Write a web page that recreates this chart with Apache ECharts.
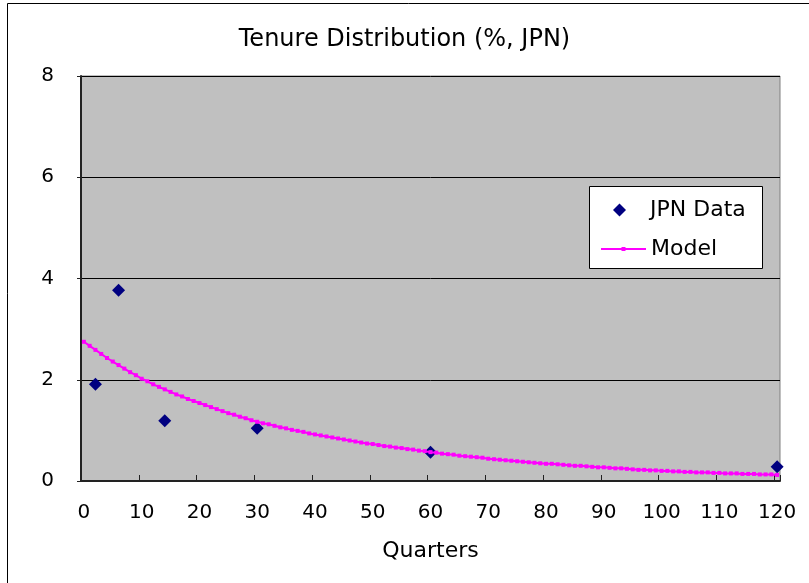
<!DOCTYPE html>
<html>
<head>
<meta charset="utf-8">
<script src="https://cdn.jsdelivr.net/npm/echarts@6/dist/echarts.min.js"></script>
<style>
html,body{margin:0;padding:0;background:#fff;}
#chart{width:809px;height:583px;}
</style>
</head>
<body>
<div id="chart"></div>
<script>
// Categories: quarters 0..120
var quarters = [];
for (var q = 0; q <= 120; q++) quarters.push(String(q));

// JPN Data points (quarter, %)
var dataQuarters = ['2', '6', '14', '30', '60', '120'];
var dataValues = [1.91, 3.77, 1.19, 1.04, 0.57, 0.28];

// Model curve, one value per quarter 0..120
var modelValues = [
  2.75,2.67,2.59,2.51,2.43,2.36,2.29,2.22,2.15,2.09,
  2.02,1.97,1.91,1.86,1.81,1.76,1.71,1.67,1.62,1.58,
  1.54,1.50,1.46,1.42,1.38,1.34,1.31,1.27,1.24,1.20,
  1.17,1.14,1.12,1.09,1.06,1.04,1.01,0.99,0.97,0.94,
  0.92,0.90,0.88,0.86,0.84,0.82,0.80,0.78,0.76,0.74,
  0.73,0.71,0.69,0.68,0.66,0.65,0.63,0.62,0.60,0.59,
  0.57,0.56,0.54,0.53,0.52,0.50,0.49,0.48,0.47,0.46,
  0.44,0.43,0.42,0.41,0.40,0.39,0.38,0.37,0.36,0.35,
  0.34,0.34,0.33,0.32,0.31,0.30,0.30,0.29,0.28,0.27,
  0.27,0.26,0.25,0.25,0.24,0.23,0.22,0.22,0.21,0.21,
  0.20,0.20,0.19,0.19,0.18,0.18,0.17,0.17,0.17,0.16,
  0.16,0.15,0.15,0.15,0.14,0.14,0.14,0.13,0.13,0.13,
  0.12
];

var yTicks = [0, 2, 4, 6, 8];

var FONT = 'DejaVu Sans';
var scatterData = dataQuarters.map(function (c, i) { return [c, dataValues[i]]; });

var chart = echarts.init(document.getElementById('chart'), null, {renderer: 'canvas'});
chart.setOption({
  animation: false,
  backgroundColor: '#ffffff',
  title: {
    text: 'Tenure Distribution (%, JPN)',
    left: 'center',
    top: 23,
    textStyle: {fontFamily: FONT, fontSize: 24, fontWeight: 'normal', color: '#000'}
  },
  graphic: [
    {type: 'rect', shape: {x: 7.5, y: 3.5, width: 900, height: 700}, style: {fill: 'none', stroke: '#000', lineWidth: 1}, silent: true, z: 0},
    {type: 'rect', shape: {x: 589.5, y: 186.5, width: 173, height: 82}, style: {fill: '#fff', stroke: '#000', lineWidth: 1}, silent: true, z: 5}
  ],
  legend: [
    {
      data: [{name: 'JPN Data', icon: 'path://M0,-1L1,0L0,1L-1,0Z'}],
      left: 613, top: 199, padding: 0,
      itemWidth: 13, itemHeight: 13, symbolKeepAspect: true,
      itemStyle: {opacity: 1},
      textStyle: {fontFamily: FONT, fontSize: 22, color: '#000', padding: [0, 0, 0, 19]},
      z: 10
    },
    {
      data: ['Model'],
      left: 600, top: 238, padding: 0,
      itemWidth: 45, itemHeight: 5,
      textStyle: {fontFamily: FONT, fontSize: 22, color: '#000'},
      z: 10
    }
  ],
  grid: {
    left: 81, right: 29, top: 76, bottom: 102,
    show: true, backgroundColor: '#C0C0C0', borderColor: '#808080', borderWidth: 1
  },
  xAxis: {
    type: 'category',
    data: quarters,
    boundaryGap: true,
    name: 'Quarters',
    nameLocation: 'middle',
    nameGap: 59,
    nameTextStyle: {fontFamily: FONT, fontSize: 22, color: '#000'},
    axisLine: {show: true, lineStyle: {color: '#222', width: 2}},
    axisTick: {show: true, inside: true, length: 6, interval: 9, lineStyle: {color: '#222'}},
    axisLabel: {interval: 9, margin: 22, fontFamily: FONT, fontSize: 20, color: '#000'},
    splitLine: {show: false}
  },
  yAxis: {
    type: 'value',
    min: yTicks[0], max: yTicks[yTicks.length - 1], interval: 2,
    axisLine: {show: true, lineStyle: {color: '#222', width: 2}},
    axisTick: {show: true, inside: false, length: 4, lineStyle: {color: '#222'}},
    axisLabel: {margin: 27, fontFamily: FONT, fontSize: 20, color: '#000'},
    splitLine: {show: true, lineStyle: {color: '#000', width: 1}}
  },
  series: [
    {
      name: 'JPN Data',
      type: 'scatter',
      data: scatterData,
      symbol: 'diamond',
      symbolSize: 13,
      itemStyle: {color: '#000080', opacity: 1},
      z: 3
    },
    {
      name: 'Model',
      type: 'line',
      data: modelValues,
      symbol: 'rect',
      symbolSize: 4,
      showSymbol: true,
      showAllSymbol: true,
      lineStyle: {color: '#FF00FF', width: 2},
      itemStyle: {color: '#FF00FF'},
      z: 4
    }
  ]
});
</script>
</body>
</html>
